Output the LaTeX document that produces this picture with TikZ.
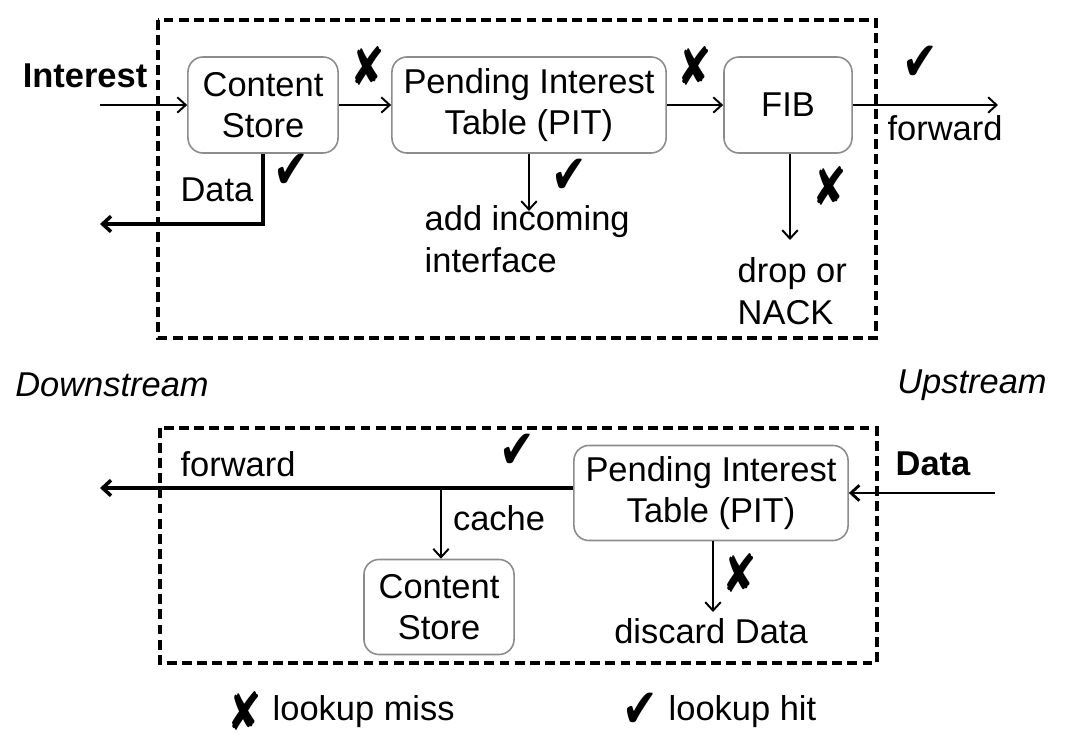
\documentclass[tikz,border=0pt]{standalone}
\usepackage{fontspec}
\setmainfont{Liberation Sans}
\newfontfamily\symfont{DejaVu Sans}
\usetikzlibrary{arrows.meta}

\newcommand{\miss}{\scalebox{0.78}[1]{\symfont\fontsize{15}{15}\selectfont ✘}}
\newcommand{\hit}{\scalebox{0.78}[1]{\symfont\fontsize{15.5}{15.5}\selectfont ✔}}

\begin{document}
\begin{tikzpicture}[x=0.01cm,y=-0.01cm,
    font=\fontsize{9.8}{11.8}\selectfont,
    blk/.style={draw=black!45,line width=0.45pt,rounded corners=4.3pt,align=center,inner sep=0pt},
    txt/.style={inner sep=0pt,align=left},
    sym/.style={inner sep=0pt},
    arr/.style={line width=0.55pt,-{Straight Barb[length=2.4pt,width=4.4pt]}},
    fat/.style={line width=1pt,-{Straight Barb[length=2.4pt,width=4.4pt,line width=1pt]}},
    dashbox/.style={line width=1.1pt,dash pattern=on 2.8pt off 1.5pt}]
    \useasboundingbox (0,0) rectangle (1072,740);

    % Interest path
    \draw[dashbox] (158,20) rectangle (876,338);
    \node[blk,minimum width=1.5cm,minimum height=0.96cm] (cs) at (263,105) {Content\\Store};
    \node[blk,minimum width=2.74cm,minimum height=0.96cm] (pit) at (529,105) {Pending Interest\\Table (PIT)};
    \node[blk,minimum width=1.28cm,minimum height=0.96cm] (fib) at (788,105) {FIB};
    \node[font=\fontsize{9.8}{11.8}\selectfont\bfseries] (interest) at (85,76) {Interest};
    \coordinate (intin) at (100,105);
    \coordinate (fwdout) at (998,105);
    \coordinate (dataout) at (100,224);
    \coordinate (pitdn) at (529,211);
    \coordinate (fibdn) at (790,240);

    \draw[arr] (intin) -- (cs);
    \draw[arr] (cs) -- (pit);
    \draw[arr] (pit) -- (fib);
    \draw[arr] (fib) -- (fwdout);
    \draw[fat] (cs.south) |- (dataout);
    \draw[arr] (pit.south) -- (pitdn);
    \draw[arr] (fib.south -| fibdn) -- (fibdn);

    \node[sym] (m1) at (368,66) {\miss};
    \node[sym] (m2) at (695,66) {\miss};
    \node[sym] (m3) at (830,186) {\miss};
    \node[sym] (h1) at (291,171) {\hit};
    \node[sym] (h2) at (569,176) {\hit};
    \node[sym] (h3) at (920,63) {\hit};
    \node[txt] (data1) at (217,190) {Data};
    \node[txt] (fwd1) at (945,128) {forward};
    \node[txt,anchor=west] (add) at (424,239) {add incoming\\interface};
    \node[txt,anchor=west] (drop) at (737,291) {drop or\\NACK};

    \node[font=\fontsize{9.8}{11.8}\selectfont\itshape] (down) at (112,385) {Downstream};
    \node[font=\fontsize{9.8}{11.8}\selectfont\itshape] (up) at (972,385) {Upstream};

    % Data path
    \draw[dashbox] (160,428) rectangle (877,663);
    \node[blk,minimum width=2.74cm,minimum height=0.95cm] (pit2) at (711,493) {Pending Interest\\Table (PIT)};
    \node[blk,minimum width=1.5cm,minimum height=0.95cm] (cs2) at (439,607) {Content\\Store};
    \node[font=\fontsize{9.8}{11.8}\selectfont\bfseries] (data2) at (933,464) {Data};
    \coordinate (datain) at (995,493);
    \coordinate (split) at (441,488);
    \coordinate (fwd2out) at (100,488);
    \coordinate (disc) at (713,612);

    \draw[arr,line width=0.8pt] (datain) -- (pit2);
    \draw[fat] (pit2.west |- split) -- (fwd2out);
    \draw[arr] (split) -- (split |- cs2.north);
    \draw[arr] (pit2.south -| disc) -- (disc);

    \node[txt] (fwd2) at (238,464) {forward};
    \node[txt] (cache) at (499,518) {cache};
    \node[txt] (discard) at (711,631) {discard Data};
    \node[sym] (h4) at (517,451) {\hit};
    \node[sym] (m4) at (740,573) {\miss};

    % legend
    \node[sym] (lm) at (245,711) {\miss};
    \node[txt,anchor=west] (lmt) at (272,712) {lookup miss};
    \node[sym] (lh) at (640,710) {\hit};
    \node[txt,anchor=west] (lht) at (668,712) {lookup hit};
\end{tikzpicture}
\end{document}
